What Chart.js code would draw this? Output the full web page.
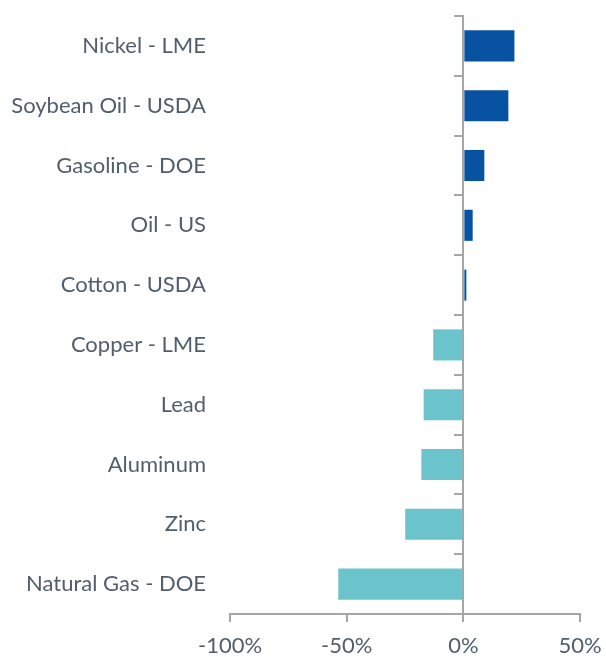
<!DOCTYPE html>
<html>
<head>
<meta charset="utf-8">
<script src="https://cdn.jsdelivr.net/npm/chart.js@4"></script>
<style>
  html, body { margin: 0; padding: 0; background: #fff; }
  #wrap { width: 606px; height: 657px; }
</style>
</head>
<body>
<div id="wrap"><canvas id="barChart" width="606" height="657"></canvas></div>
<script>
const categories = ['Nickel - LME', 'Soybean Oil - USDA', 'Gasoline - DOE', 'Oil - US', 'Cotton - USDA',
    'Copper - LME', 'Lead', 'Aluminum', 'Zinc', 'Natural Gas - DOE'];
const changes = [21.9, 19.3, 9.0, 4.0, 1.3, -12.9, -17.0, -18.0, -24.9, -53.6];
const xTicks = [-100, -50, 0, 50];

const upColor = '#0753a1';
const downColor = '#6bc4cc';
const axisGray = '#a6a6a6';
const textColor = '#515e6c';

const ctx = document.getElementById('barChart').getContext('2d');

new Chart(ctx, {
    type: 'bar',
    data: {
        labels: categories,
        datasets: [{
            data: changes,
            backgroundColor: changes.map(v => v >= 0 ? upColor : downColor),
            barPercentage: 0.52,
            categoryPercentage: 1
        }]
    },
    options: {
        indexAxis: 'y',
        responsive: false,
        animation: false,
        layout: { padding: { top: 16, right: 26, left: 0, bottom: 0 } },
        plugins: { legend: { display: false }, tooltip: { enabled: false } },
        scales: {
            x: {
                min: xTicks[0],
                max: xTicks[xTicks.length - 1],
                afterBuildTicks: (s) => { s.ticks = xTicks.map(v => ({ value: v })); },
                afterFit: (s) => { s.height = 43; s.paddingLeft = 0; s.paddingRight = 0; },
                border: { display: true, color: axisGray, width: 2 },
                grid: {
                    drawOnChartArea: false,
                    drawTicks: true,
                    tickLength: 8,
                    tickColor: axisGray,
                    lineWidth: 2
                },
                ticks: {
                    padding: 11,
                    color: textColor,
                    font: { family: 'Lato', size: 22 },
                    callback: (v) => v + '%'
                }
            },
            y: {
                position: 'left',
                afterFit: (s) => { s.width = 230; s.paddingTop = 0; s.paddingBottom = 0; },
                border: { display: false },
                grid: { display: false, drawTicks: false },
                ticks: {
                    padding: 24,
                    color: textColor,
                    font: { family: 'Lato', size: 22 }
                }
            },
            y2: {
                type: 'category',
                axis: 'y',
                labels: categories,
                position: { x: 0 },
                z: 1,
                afterFit: (s) => { s.paddingTop = 0; s.paddingBottom = 0; },
                border: { display: true, color: axisGray, width: 2 },
                grid: {
                    offset: true,
                    drawOnChartArea: false,
                    drawTicks: true,
                    tickLength: 8,
                    color: axisGray,
                    lineWidth: 2
                },
                ticks: { display: false }
            }
        }
    }
});
</script>
</body>
</html>
